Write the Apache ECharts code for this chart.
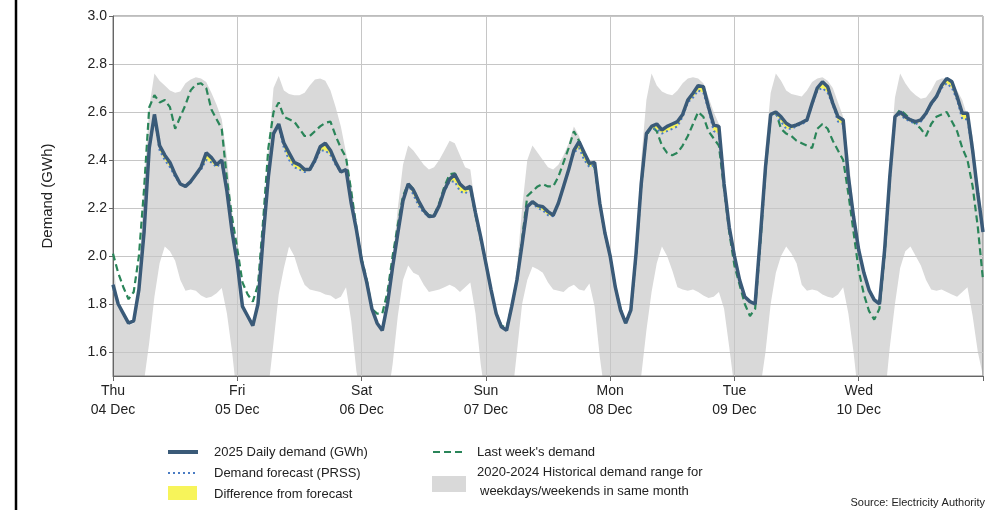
<!DOCTYPE html>
<html><head><meta charset="utf-8">
<script src="https://cdn.jsdelivr.net/npm/echarts@6/dist/echarts.min.js"></script>
<style>html,body{margin:0;padding:0;background:#fff}#c{width:1005px;height:510px}</style>
</head><body><div id="c"></div>
<script>
// Hourly values from Thu 04 Dec 00:00 (hour 0) to end of Wed 10 Dec (hour 168)
const dayLabels = ['Thu\n04 Dec','Fri\n05 Dec','Sat\n06 Dec','Sun\n07 Dec','Mon\n08 Dec','Tue\n09 Dec','Wed\n10 Dec'];
const yTicks = [1.6,1.8,2.0,2.2,2.4,2.6,2.8,3.0];

const demand = [
 1.88,1.80,1.76,1.72,1.73,1.86,2.10,2.45,2.59,2.46,2.42,2.39,2.34,2.30,2.29,2.31,2.34,2.37,2.43,2.41,2.38,2.40,2.27,2.10,
 1.97,1.79,1.75,1.71,1.80,2.08,2.33,2.51,2.55,2.47,2.43,2.39,2.38,2.36,2.36,2.40,2.455,2.47,2.44,2.39,2.35,2.36,2.22,2.11,
 1.98,1.89,1.78,1.72,1.69,1.80,1.955,2.095,2.23,2.30,2.275,2.23,2.19,2.165,2.167,2.21,2.275,2.32,2.34,2.30,2.28,2.29,2.18,2.08,
 1.97,1.86,1.76,1.705,1.69,1.79,1.90,2.05,2.205,2.226,2.21,2.205,2.185,2.17,2.22,2.29,2.36,2.44,2.476,2.43,2.386,2.39,2.22,2.095,
 2.00,1.87,1.775,1.72,1.775,2.01,2.30,2.51,2.54,2.55,2.525,2.54,2.55,2.56,2.59,2.65,2.678,2.71,2.705,2.62,2.546,2.54,2.30,2.12,
 2.00,1.90,1.83,1.81,1.80,2.08,2.37,2.59,2.60,2.58,2.553,2.54,2.546,2.556,2.567,2.636,2.70,2.726,2.705,2.636,2.58,2.567,2.33,2.164,
 2.025,1.93,1.858,1.817,1.80,2.025,2.33,2.58,2.60,2.58,2.567,2.56,2.567,2.595,2.636,2.664,2.71,2.74,2.726,2.664,2.595,2.595,2.44,2.26,2.10
];
const forecast = [
 1.88,1.80,1.76,1.72,1.73,1.86,2.10,2.45,2.58,2.44,2.40,2.37,2.33,2.30,2.29,2.31,2.34,2.36,2.40,2.39,2.37,2.39,2.27,2.10,
 1.97,1.79,1.75,1.71,1.80,2.08,2.33,2.51,2.54,2.45,2.40,2.37,2.36,2.35,2.36,2.39,2.44,2.44,2.42,2.38,2.35,2.36,2.22,2.11,
 1.98,1.89,1.78,1.72,1.69,1.80,1.955,2.095,2.23,2.30,2.255,2.21,2.18,2.165,2.167,2.21,2.27,2.31,2.31,2.27,2.26,2.28,2.18,2.08,
 1.97,1.86,1.76,1.705,1.69,1.79,1.90,2.05,2.205,2.22,2.20,2.19,2.17,2.165,2.22,2.29,2.36,2.43,2.45,2.40,2.37,2.38,2.22,2.095,
 2.00,1.87,1.775,1.72,1.775,2.01,2.30,2.51,2.53,2.53,2.51,2.52,2.53,2.54,2.58,2.64,2.66,2.69,2.68,2.61,2.52,2.51,2.30,2.12,
 2.00,1.90,1.83,1.81,1.80,2.08,2.37,2.59,2.59,2.56,2.53,2.53,2.54,2.55,2.56,2.63,2.69,2.70,2.68,2.63,2.56,2.55,2.33,2.164,
 2.025,1.93,1.858,1.817,1.80,2.025,2.33,2.58,2.59,2.57,2.56,2.55,2.56,2.59,2.63,2.66,2.70,2.72,2.70,2.65,2.57,2.57,2.43,2.26,2.10
];
const lastWeek = [
 2.01,1.93,1.87,1.82,1.85,2.00,2.28,2.62,2.67,2.64,2.65,2.62,2.53,2.58,2.63,2.69,2.715,2.72,2.70,2.61,2.57,2.53,2.32,2.16,
 2.03,1.89,1.84,1.81,1.88,2.15,2.45,2.60,2.64,2.58,2.57,2.56,2.53,2.50,2.50,2.52,2.54,2.555,2.56,2.50,2.45,2.41,2.27,2.12,
 1.99,1.90,1.78,1.76,1.76,1.85,2.00,2.13,2.25,2.30,2.28,2.23,2.19,2.17,2.17,2.22,2.29,2.34,2.345,2.30,2.28,2.28,2.17,2.07,
 1.97,1.86,1.76,1.71,1.70,1.79,1.90,2.07,2.25,2.27,2.29,2.30,2.29,2.29,2.33,2.39,2.45,2.52,2.48,2.42,2.38,2.37,2.22,2.09,
 2.00,1.87,1.78,1.72,1.775,2.00,2.29,2.50,2.54,2.52,2.46,2.43,2.42,2.43,2.46,2.50,2.55,2.60,2.58,2.52,2.49,2.46,2.28,2.10,
 1.96,1.88,1.80,1.75,1.78,2.05,2.36,2.58,2.60,2.53,2.51,2.50,2.48,2.47,2.46,2.45,2.53,2.55,2.53,2.48,2.44,2.40,2.26,2.10,
 1.94,1.84,1.77,1.735,1.78,2.00,2.32,2.58,2.61,2.59,2.57,2.55,2.53,2.50,2.55,2.58,2.59,2.60,2.56,2.52,2.45,2.40,2.29,2.12,1.90
];
const histLow = [
 1.40,1.40,1.40,1.40,1.40,1.40,1.48,1.64,1.83,1.97,2.04,2.02,1.98,1.90,1.855,1.86,1.855,1.835,1.825,1.83,1.845,1.867,1.76,1.60,
 1.40,1.40,1.40,1.40,1.40,1.40,1.45,1.64,1.84,1.95,2.04,2.00,1.93,1.88,1.86,1.855,1.85,1.84,1.835,1.82,1.83,1.87,1.73,1.52,
 1.40,1.40,1.40,1.40,1.40,1.40,1.55,1.75,1.90,1.96,1.93,1.92,1.88,1.85,1.855,1.86,1.87,1.88,1.87,1.85,1.87,1.89,1.76,1.55,
 1.40,1.40,1.40,1.40,1.40,1.40,1.60,1.80,1.90,1.955,1.945,1.93,1.89,1.86,1.855,1.85,1.87,1.88,1.86,1.855,1.885,1.79,1.58,1.42,
 1.40,1.40,1.40,1.40,1.40,1.40,1.50,1.69,1.85,1.97,2.04,2.00,1.94,1.87,1.86,1.855,1.86,1.85,1.835,1.825,1.83,1.85,1.78,1.62,
 1.45,1.40,1.40,1.40,1.40,1.45,1.60,1.80,1.93,2.00,2.04,2.01,1.97,1.88,1.855,1.86,1.855,1.84,1.83,1.825,1.84,1.87,1.76,1.60,
 1.40,1.40,1.40,1.40,1.40,1.40,1.62,1.80,1.95,2.02,2.04,2.00,1.96,1.90,1.86,1.855,1.86,1.85,1.84,1.83,1.85,1.87,1.75,1.60,1.50
];
const histHigh = [
 1.98,1.79,1.75,1.71,1.72,1.90,2.30,2.62,2.76,2.73,2.71,2.69,2.68,2.685,2.72,2.735,2.745,2.74,2.725,2.68,2.63,2.57,2.41,2.18,
 2.00,1.80,1.75,1.71,1.80,2.10,2.45,2.70,2.75,2.69,2.675,2.67,2.67,2.68,2.71,2.735,2.74,2.73,2.69,2.62,2.54,2.43,2.30,2.14,
 2.00,1.90,1.79,1.73,1.70,1.80,1.98,2.20,2.38,2.46,2.44,2.41,2.38,2.36,2.37,2.40,2.44,2.48,2.47,2.42,2.37,2.36,2.20,2.09,
 1.98,1.87,1.77,1.71,1.70,1.79,1.95,2.20,2.40,2.46,2.43,2.40,2.37,2.36,2.38,2.42,2.47,2.54,2.50,2.44,2.40,2.39,2.24,2.10,
 2.02,1.88,1.78,1.72,1.78,2.05,2.40,2.65,2.76,2.71,2.685,2.675,2.67,2.69,2.72,2.74,2.745,2.74,2.72,2.66,2.60,2.55,2.32,2.14,
 2.02,1.91,1.84,1.80,1.80,2.10,2.45,2.68,2.76,2.73,2.69,2.675,2.67,2.665,2.69,2.725,2.74,2.745,2.73,2.70,2.64,2.58,2.42,2.20,
 2.03,1.94,1.87,1.82,1.82,2.05,2.40,2.66,2.76,2.72,2.69,2.67,2.655,2.66,2.69,2.73,2.74,2.74,2.735,2.69,2.65,2.58,2.50,2.30,2.15
];

const FONT = '"Liberation Sans", Arial, sans-serif';
const hours = demand.map((_, i) => String(i));
const isDayStart = i => i % 24 === 0;
const diffBase = demand.map((d, i) => Math.min(d, forecast[i]));
const diffSize = demand.map((d, i) => Math.abs(d - forecast[i]));
const bandSize = histHigh.map((h, i) => h - histLow[i]);

const chart = echarts.init(document.getElementById('c'), null, {renderer: 'canvas'});
const noLine = {width: 0, opacity: 0};
chart.setOption({
  animation: false,
  backgroundColor: '#ffffff',
  grid: {left: 113, right: 22, top: 16, bottom: 134, show: true, borderColor: '#7a7a7a', borderWidth: 1, z: 1.5},
  xAxis: {
    type: 'category', data: hours, boundaryGap: false, z: 1.5,
    axisLine: {show: true, lineStyle: {color: '#666', width: 1}},
    axisTick: {show: true, length: 5, interval: isDayStart, lineStyle: {color: '#666'}},
    splitLine: {show: true, interval: isDayStart, lineStyle: {color: '#c6c6c6', width: 1}},
    axisLabel: {
      color: '#222', fontFamily: FONT, fontSize: 14, lineHeight: 19, margin: 6,
      interval: isDayStart,
      formatter: (v, i) => (i < 168 ? dayLabels[Math.round(i / 24)] : '')
    }
  },
  yAxis: {
    type: 'value', min: 1.5, max: 3.0, z: 1.5,
    name: 'Demand (GWh)', nameLocation: 'middle', nameGap: 58,
    nameTextStyle: {color: '#222', fontFamily: FONT, fontSize: 15},
    axisLine: {show: true, lineStyle: {color: '#666', width: 1}},
    axisTick: {show: true, length: 4, lineStyle: {color: '#666'}, customValues: yTicks},
    splitLine: {show: true, lineStyle: {color: '#c6c6c6', width: 1}},
    axisLabel: {color: '#222', fontFamily: FONT, fontSize: 14, margin: 6,
      customValues: yTicks, formatter: v => v.toFixed(1)}
  },
  series: [
    {type: 'line', data: histLow, stack: 'band', symbol: 'none', lineStyle: noLine, silent: true, z: 1},
    {type: 'line', data: bandSize, stack: 'band', symbol: 'none', lineStyle: noLine, silent: true, z: 1,
      areaStyle: {color: '#d9d9d9', opacity: 1}},
    {type: 'line', data: diffBase, stack: 'diff', symbol: 'none', lineStyle: noLine, silent: true, z: 2},
    {type: 'line', data: diffSize, stack: 'diff', symbol: 'none', lineStyle: noLine, silent: true, z: 2,
      areaStyle: {color: '#f7f45a', opacity: 1}},
    {name: "Last week's demand", type: 'line', data: lastWeek, symbol: 'none', z: 3,
      lineStyle: {color: '#2a8559', width: 2.2, type: [7, 4]}},
    {name: 'Demand forecast (PRSS)', type: 'line', data: forecast, symbol: 'none', z: 4,
      lineStyle: {color: '#4a7cc4', width: 2, type: [2, 3]}},
    {name: '2025 Daily demand (GWh)', type: 'line', data: demand, symbol: 'none', z: 5,
      lineStyle: {color: '#3a5a78', width: 3.5}}
  ],
  graphic: [
    {type: 'line', shape: {x1: 16, y1: 0, x2: 16, y2: 510}, style: {stroke: '#000', lineWidth: 2.5}},
    {type: 'line', shape: {x1: 168, y1: 452, x2: 198, y2: 452}, style: {stroke: '#3a5a78', lineWidth: 4}},
    {type: 'text', x: 214, y: 452, style: {text: '2025 Daily demand (GWh)', font: '13px ' + FONT, fill: '#222', verticalAlign: 'middle'}},
    {type: 'line', shape: {x1: 168, y1: 473, x2: 198, y2: 473}, style: {stroke: '#4a7cc4', lineWidth: 2, lineDash: [2, 3]}},
    {type: 'text', x: 214, y: 473, style: {text: 'Demand forecast (PRSS)', font: '13px ' + FONT, fill: '#222', verticalAlign: 'middle'}},
    {type: 'rect', shape: {x: 168, y: 486, width: 29, height: 14}, style: {fill: '#f7f45a'}},
    {type: 'text', x: 214, y: 494, style: {text: 'Difference from forecast', font: '13px ' + FONT, fill: '#222', verticalAlign: 'middle'}},
    {type: 'line', shape: {x1: 433, y1: 452, x2: 464, y2: 452}, style: {stroke: '#2a8559', lineWidth: 2.2, lineDash: [7, 4]}},
    {type: 'text', x: 477, y: 452, style: {text: "Last week's demand", font: '13px ' + FONT, fill: '#222', verticalAlign: 'middle'}},
    {type: 'rect', shape: {x: 432, y: 476, width: 34, height: 16}, style: {fill: '#d9d9d9'}},
    {type: 'text', x: 477, y: 472, style: {text: '2020-2024 Historical demand range for', font: '13px ' + FONT, fill: '#222', verticalAlign: 'middle'}},
    {type: 'text', x: 480, y: 491, style: {text: 'weekdays/weekends in same month', font: '13px ' + FONT, fill: '#222', verticalAlign: 'middle'}},
    {type: 'text', x: 985, y: 503, style: {text: 'Source: Electricity Authority', font: '11px ' + FONT, fill: '#222', align: 'right', verticalAlign: 'middle'}}
  ]
});
</script></body></html>
